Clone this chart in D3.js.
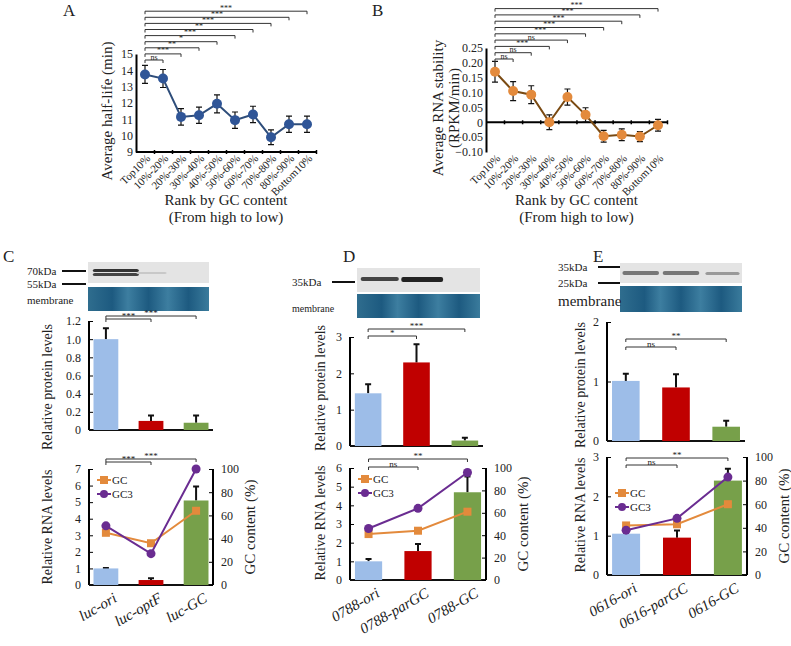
<!DOCTYPE html>
<html><head><meta charset="utf-8">
<script src="https://cdn.jsdelivr.net/npm/d3@7"></script>
<style>body{margin:0;background:#fff}text{font-family:"Liberation Serif",serif;fill:#222}</style>
</head><body><svg width="791" height="646"></svg>
<script>
const rankCats = ['Top10%','10%-20%','20%-30%','30%-40%','40%-50%','50%-60%','60%-70%','70%-80%','80%-90%','Bottom10%'];
const halfLife = [13.75,13.5,11.15,11.25,11.95,10.95,11.3,9.9,10.7,10.7];
const halfLifeErr = [0.55,0.55,0.5,0.5,0.55,0.5,0.5,0.45,0.5,0.5];
const halfLifeSig = ['ns','***','**','*','***','**','***','***','***'];
const stability = [0.17,0.105,0.093,0,0.085,0.025,-0.047,-0.042,-0.048,-0.01];
const stabilityErr = [0.035,0.032,0.03,0.025,0.027,0.024,0.02,0.02,0.017,0.02];
const stabilitySig = ['ns','ns','***','ns','***','***','***','***','***'];

const constructsC = ['luc-ori','luc-optF','luc-GC'];
const proteinC = [1.0,0.1,0.08], proteinCErr = [0.12,0.06,0.08], proteinCSig = ['***','***'];
const rnaC = [1.0,0.3,5.1], rnaCErr = [0.02,0.1,0.85], rnaCSig = ['***','***'];
const gcC = [45,36,64], gc3C = [51,27,100];

const constructsD = ['0788-ori','0788-parGC','0788-GC'];
const proteinD = [1.45,2.3,0.15], proteinDErr = [0.25,0.5,0.08], proteinDSig = ['*','***'];
const rnaD = [1.0,1.55,4.7], rnaDErr = [0.12,0.38,0.85], rnaDSig = ['ns','**'];
const gcD = [41,44,61], gc3D = [46,64,96];

const constructsE = ['0616-ori','0616-parGC','0616-GC'];
const proteinE = [1.01,0.9,0.24], proteinEErr = [0.12,0.22,0.1], proteinESig = ['ns','**'];
const rnaE = [1.05,0.95,2.4], rnaEErr = [0.02,0.18,0.3], rnaESig = ['ns','**'];
const gcE = [42,43,60], gc3E = [38,48,83];

const barColors = ['#9dbde8','#c00000','#77a04a'];
const svg = d3.select('svg');

function label(t, x, y) {
    svg.append('text').attr('x', x).attr('y', y).attr('font-size', 17).text(t);
}
function bracket(g, x1, x2, y, txt, fs) {
    g.append('path').attr('d', `M${x1},${y+3}V${y}H${x2}V${y+3}`).attr('fill','none').attr('stroke','#333').attr('stroke-width',1);
    g.append('text').attr('x', (x1+x2)/2).attr('y', y-0.5).attr('text-anchor','middle').attr('font-size', fs||9).text(txt);
}

// ---- line panels A and B
function rankPanel(o) {
    const g = svg.append('g');
    const x = d3.scalePoint().domain(rankCats).range([o.x0+9, o.x1-9]);
    const y = d3.scaleLinear().domain(o.domain).range([o.y1, o.y0]);
    g.append('g').attr('transform', `translate(${o.x0},0)`)
        .call(d3.axisLeft(y).tickValues(o.ticks).tickFormat(o.fmt).tickSize(0).tickPadding(3))
        .call(a => a.select('.domain').attr('stroke-width', 2))
        .selectAll('text').attr('font-size', 12).attr('font-family','Liberation Serif');
    const base = o.base !== undefined ? y(o.base) : o.y1;
    g.append('g').attr('transform', `translate(0,${base})`)
        .call(d3.axisBottom(x).tickSize(4).tickFormat(''))
        .call(a => a.select('.domain').attr('d', `M${o.x0},0H${o.x1}`).attr('stroke-width', 2))
        .call(a => a.selectAll('.tick line').attr('transform', 'translate(9,-2)').attr('stroke-width', 1.5));
    rankCats.forEach(c => {
        g.append('text').attr('transform', `translate(${x(c)+6},${o.y1+7}) rotate(-45)`)
            .attr('text-anchor','end').attr('font-size', 11).text(c);
    });
    o.vals.forEach((v, i) => {
        const cx = x(rankCats[i]);
        g.append('path').attr('d', `M${cx-3},${y(v+o.err[i])}H${cx+3}M${cx},${y(v+o.err[i])}V${y(v-o.err[i])}M${cx-3},${y(v-o.err[i])}H${cx+3}`)
            .attr('stroke','#111').attr('stroke-width',1.2);
    });
    g.append('path').datum(o.vals).attr('fill','none').attr('stroke', o.line).attr('stroke-width', 2)
        .attr('d', d3.line().x((d, i) => x(rankCats[i])).y(d => y(d)));
    g.selectAll('circle.p').data(o.vals).join('circle').attr('cx', (d, i) => x(rankCats[i])).attr('cy', d => y(d))
        .attr('r', 5).attr('fill', o.dot);
    o.sig.forEach((s, i) => bracket(g, x(rankCats[0]), x(rankCats[i+1]), o.sigY - i*o.sigStep, s, 8));
    const mx = (o.x0 + o.x1) / 2;
    g.append('text').attr('x', mx).attr('y', 205).attr('text-anchor','middle').attr('font-size', 15).text('Rank by GC content');
    g.append('text').attr('x', mx).attr('y', 222).attr('text-anchor','middle').attr('font-size', 15).text('(From high to low)');
    o.ylab.forEach((t, k) => g.append('text').attr('transform', `translate(${o.ylx + k*16},${(o.y0+o.y1)/2+8}) rotate(-90)`)
        .attr('text-anchor','middle').attr('font-size', 15).text(t));
}
rankPanel({x0:136, x1:316, y0:54, y1:152, domain:[9,15], ticks:d3.range(9,16), fmt:d3.format('d'),
    vals:halfLife, err:halfLifeErr, sig:halfLifeSig, sigY:60, sigStep:6.1, line:'#2e4d7a', dot:'#2f5597',
    ylab:['Average half-life (min)'], ylx:112});
rankPanel({x0:486, x1:667, y0:48, y1:152, base:0, domain:[-0.1,0.25], ticks:d3.range(-0.1,0.26,0.05),
    fmt:d => Math.abs(d) < 1e-9 ? '0' : d3.format('.2f')(d),
    vals:stability, err:stabilityErr, sig:stabilitySig, sigY:59, sigStep:6.3, line:'#7a4a12', dot:'#e38a3c',
    ylab:['Average RNA stability','(RPKM/min)'], ylx:443});
label('A', 63, 16); label('B', 372, 16);

// ---- construct panels C, D, E
function blot(o) {
    const g = svg.append('g');
    const defs = g.append('defs');
    const gr = defs.append('linearGradient').attr('id', 'm' + o.id);
    [['0%','#2f6d8e'],['20%','#1d5a80'],['33%','#3d7ea0'],['50%','#1d5a80'],['66%','#3d7ea0'],['83%','#1d5a80'],['100%','#3a7b9c']]
        .forEach(s => gr.append('stop').attr('offset', s[0]).attr('stop-color', s[1]));
    g.append('rect').attr('x', o.bx).attr('y', o.by).attr('width', o.bw).attr('height', o.bh).attr('fill', '#e4e4e4');
    o.bands.forEach(b => g.append('rect').attr('x', o.bx + b[0]*o.bw).attr('y', o.by + b[1]).attr('width', b[2]*o.bw)
        .attr('height', b[3]).attr('rx', 2).attr('fill', b[4]));
    g.append('rect').attr('x', o.bx).attr('y', o.my).attr('width', o.bw).attr('height', o.mh).attr('fill', `url(#m${o.id})`);
    o.marks.forEach(m => {
        g.append('text').attr('x', m.x).attr('y', m.y + 4).attr('font-size', m.fs || 11).text(m.t);
        if (m.l) g.append('line').attr('x1', m.l[0]).attr('x2', m.l[1]).attr('y1', m.y).attr('y2', m.y).attr('stroke', '#111').attr('stroke-width', 2);
    });
}
function barChart(o, cats, vals, errs, sig, gc, gc3) {
    const g = svg.append('g');
    const x = d3.scaleBand().domain(cats).range([o.x0, o.x1]).paddingInner(0.45).paddingOuter(0.1);
    const y = d3.scaleLinear().domain([0, o.max]).range([o.y1, o.y0]);
    g.append('g').attr('transform', `translate(${o.x0},0)`)
        .call(d3.axisLeft(y).tickValues(o.ticks).tickFormat(o.fmt).tickSize(-4).tickPadding(8))
        .call(a => a.select('.domain').attr('d', `M0,${o.y1}V${o.y0}`).attr('stroke-width', 2))
        .selectAll('text').attr('font-size', 12).attr('font-family','Liberation Serif');
    g.append('line').attr('x1', o.x0).attr('x2', o.x1).attr('y1', o.y1).attr('y2', o.y1).attr('stroke', '#111').attr('stroke-width', 2);
    vals.forEach((v, i) => {
        const bx = x(cats[i]), bw = x.bandwidth(), cx = bx + bw/2;
        g.append('path').attr('d', `M${cx},${y(v)}V${y(v+errs[i])}M${cx-3},${y(v+errs[i])}H${cx+3}`).attr('stroke','#111').attr('stroke-width', 2);
        g.append('rect').attr('x', bx).attr('y', y(v)).attr('width', bw).attr('height', o.y1 - y(v)).attr('fill', barColors[i]);
    });
    const c0 = x(cats[0]) + x.bandwidth()/2;
    sig.forEach((s, i) => bracket(g, c0, x(cats[i+1]) + x.bandwidth()/2, o.sigY[i], s, 9));
    g.append('text').attr('transform', `translate(${o.ylx},${o.ylc || (o.y0+o.y1)/2}) rotate(-90)`).attr('text-anchor','middle')
        .attr('font-size', o.ylfs || 15).text(o.ylab);
    if (gc) {
        const y2 = d3.scaleLinear().domain([0, 100]).range([o.y1, o.y0]);
        g.append('g').attr('transform', `translate(${o.x1},0)`)
            .call(d3.axisRight(y2).tickValues(d3.range(0, 101, 20)).tickSize(-4).tickPadding(8))
            .call(a => a.select('.domain').attr('d', `M0,${o.y1}V${o.y0}`).attr('stroke-width', 2))
            .selectAll('text').attr('font-size', 12).attr('font-family','Liberation Serif');
        const cx = i => x(cats[i]) + x.bandwidth()/2;
        [[gc, '#e38a3c', 'rect'], [gc3, '#6a2c91', 'circle']].forEach(([d, col, shp]) => {
            g.append('path').datum(d).attr('fill','none').attr('stroke', col).attr('stroke-width', 2)
                .attr('d', d3.line().x((v, i) => cx(i)).y(v => y2(v)));
            d.forEach((v, i) => shp === 'rect'
                ? g.append('rect').attr('x', cx(i)-4).attr('y', y2(v)-4).attr('width', 8).attr('height', 8).attr('fill', col)
                : g.append('circle').attr('cx', cx(i)).attr('cy', y2(v)).attr('r', 4.5).attr('fill', col));
        });
        [['GC', '#e38a3c', 'rect'], ['GC3', '#6a2c91', 'circle']].forEach(([t, col, shp], k) => {
            const ly = o.legY + k*14, lx = o.x0 + 8;
            g.append('line').attr('x1', lx).attr('x2', lx+14).attr('y1', ly).attr('y2', ly).attr('stroke', col).attr('stroke-width', 2);
            if (shp === 'rect') g.append('rect').attr('x', lx+3).attr('y', ly-4).attr('width', 8).attr('height', 8).attr('fill', col);
            else g.append('circle').attr('cx', lx+7).attr('cy', ly).attr('r', 4).attr('fill', col);
            g.append('text').attr('x', lx+15).attr('y', ly+4).attr('font-size', 11).text(t);
        });
        g.append('text').attr('transform', `translate(${o.x1+42},${(o.y0+o.y1)/2}) rotate(-90)`).attr('text-anchor','middle').attr('font-size', 15).text('GC content (%)');
        cats.forEach(c => g.append('text').attr('transform', `translate(${x(c)+x.bandwidth()/2+12},${o.y1+16}) rotate(-30)`)
            .attr('text-anchor','end').attr('font-size', 15).attr('font-style','italic').text(c));
    }
}
const f1 = d3.format('.1f'), fd = d3.format('d');

label('C', 3, 262);
blot({id:'c', bx:88, by:262, bw:121, bh:21, my:287, mh:24,
    bands:[[0.04,7,0.38,3,'#333'],[0.04,11,0.38,3,'#444'],[0.4,10,0.25,2,'#c8c8c8']],
    marks:[{t:'70kDa', x:27, y:271, l:[62,86]}, {t:'55kDa', x:27, y:284, l:[62,86]}, {t:'membrane', x:27, y:300}]});
barChart({x0:89, x1:213, y0:321, y1:430, max:1.2, ticks:d3.range(0,1.21,0.2), fmt:d => d === 0 ? '0' : f1(d), sigY:[319,316], ylx:52, ylc:387, ylfs:14, ylab:'Relative protein levels'},
    constructsC, proteinC, proteinCErr, proteinCSig);
barChart({x0:89, x1:213, y0:469, y1:585, max:7, ticks:d3.range(0,8), fmt:fd, sigY:[462,459], ylx:52, ylfs:14, ylab:'Relative RNA levels', legY:480},
    constructsC, rnaC, rnaCErr, rnaCSig, gcC, gc3C);

label('D', 343, 262);
blot({id:'d', bx:357, by:268, bw:123, bh:24, my:294, mh:24,
    bands:[[0.03,9,0.31,4,'#444'],[0.36,9,0.34,5,'#222']],
    marks:[{t:'35kDa', x:292, y:282, l:[332,355]}, {t:'membrane', x:292, y:308, fs:10}]});
barChart({x0:350, x1:483, y0:337, y1:446, max:3, ticks:d3.range(0,4), fmt:fd, sigY:[336,329], ylx:325, ylc:388, ylfs:14, ylab:'Relative protein levels'},
    constructsD, proteinD, proteinDErr, proteinDSig);
barChart({x0:350, x1:486, y0:468, y1:580, max:6, ticks:d3.range(0,7), fmt:fd, sigY:[467,459], ylx:325, ylc:523, ylfs:14, ylab:'Relative RNA levels', legY:479},
    constructsD, rnaD, rnaDErr, rnaDSig, gcD, gc3D);

label('E', 593, 262);
blot({id:'e', bx:620, by:263, bw:122, bh:20, my:286, mh:26,
    bands:[[0.02,8,0.3,4,'#777'],[0.35,8,0.3,4,'#777'],[0.7,9,0.28,3,'#999']],
    marks:[{t:'35kDa', x:558, y:267, l:[598,620]}, {t:'25kDa', x:558, y:283, l:[598,620]}, {t:'membrane', x:558, y:302, fs:15}]});
barChart({x0:607, x1:745, y0:322, y1:441, max:2, ticks:[0,1,2], fmt:fd, sigY:[347,339], ylx:585, ylc:385, ylfs:14, ylab:'Relative protein levels'},
    constructsE, proteinE, proteinEErr, proteinESig);
barChart({x0:607, x1:747, y0:457, y1:575, max:3, ticks:[0,1,2,3], fmt:fd, sigY:[465,458], ylx:585, ylc:515, ylfs:14, ylab:'Relative RNA levels', legY:493},
    constructsE, rnaE, rnaEErr, rnaESig, gcE, gc3E);
</script></body></html>
